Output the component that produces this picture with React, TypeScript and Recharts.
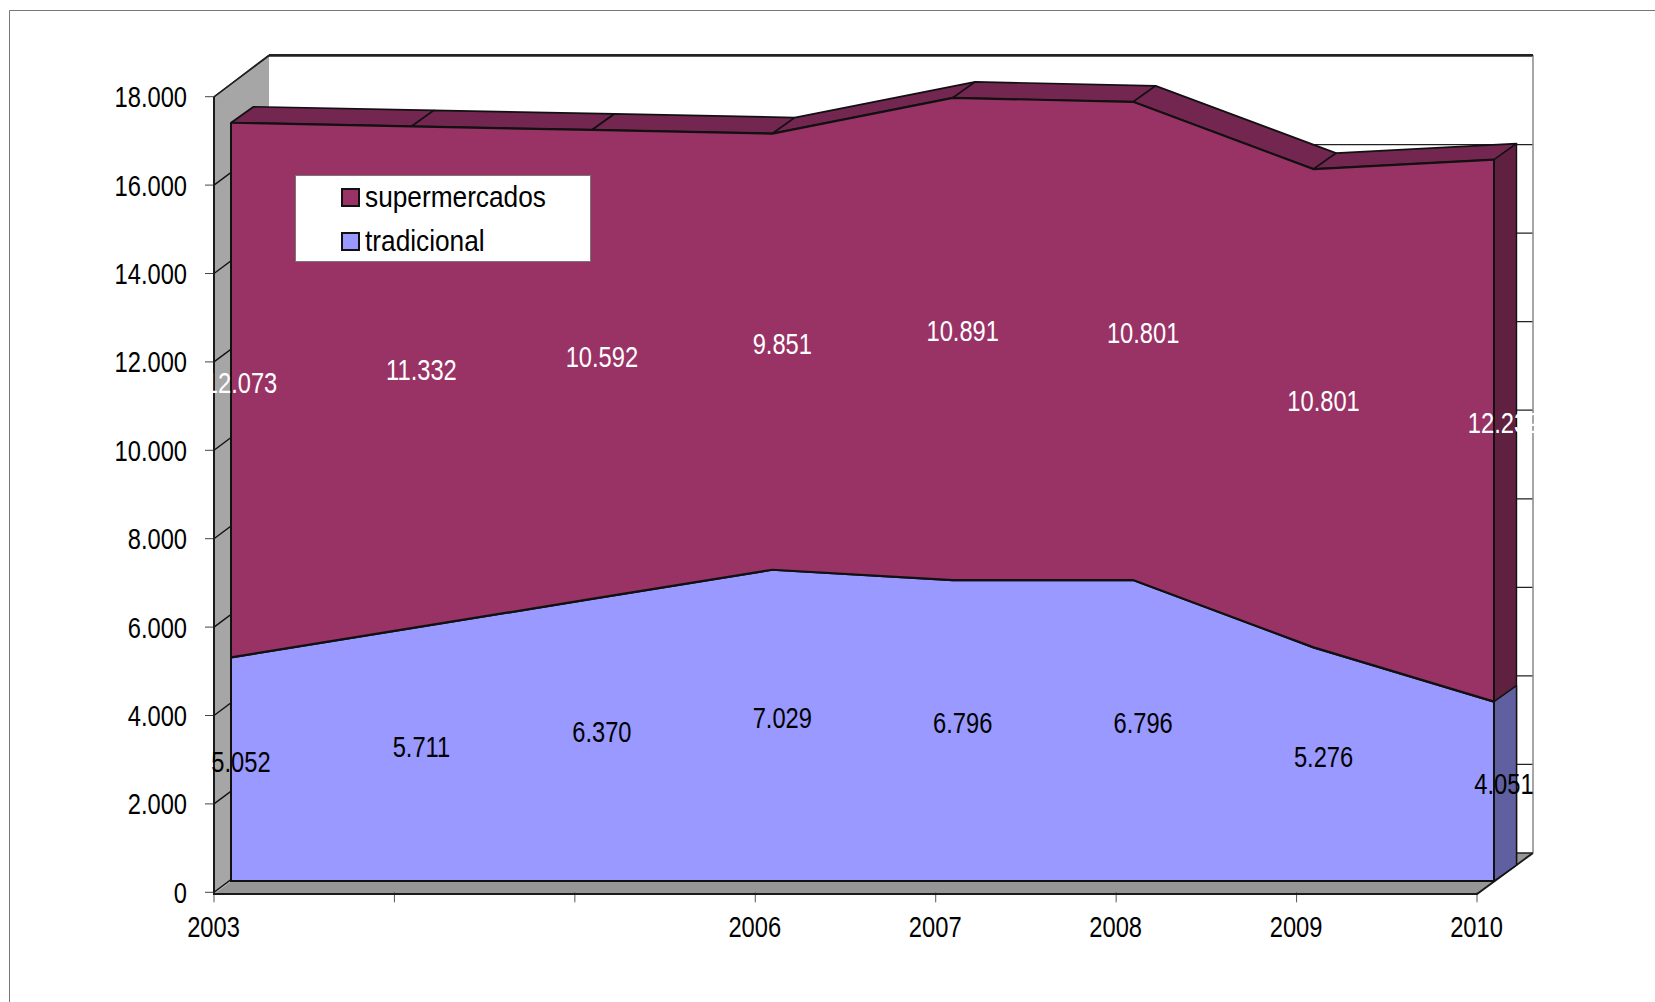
import React from "react";
import { AreaChart, Area, LineChart, Line, XAxis, YAxis, CartesianGrid, Legend } from "recharts";

const yearLabels = ["2003", "", "", "2006", "2007", "2008", "2009", "2010"];
const tradicional = [5052, 5711, 6370, 7029, 6796, 6796, 5276, 4051];
const supermercados = [12073, 11332, 10592, 9851, 10891, 10801, 10801, 12239];
const yTicks = [0, 2000, 4000, 6000, 8000, 10000, 12000, 14000, 16000, 18000];

const rows = yearLabels.map((year, i) => ({
  key: i,
  year,
  tradicional: tradicional[i],
  supermercados: supermercados[i],
  total: tradicional[i] + supermercados[i],
  midTrad: tradicional[i] / 2,
  midSuper: tradicional[i] + supermercados[i] / 2,
}));

const W = 1655;
const H = 1002;
const FONT = "'Liberation Sans', Arial, sans-serif";
const DEPTH_X = 22.5;
const DEPTH_Y = -16;
const FRONT_BASE = 881;
const domain: [number, number] = [0, 18000];
const legendOrder = ["supermercados", "tradicional"];
const legendFill: Record<string, string> = { supermercados: "#993366", tradicional: "#9999FF" };

const layer: React.CSSProperties = { position: "absolute", left: 0, top: 0 };
const fmt = (n: number) => (n >= 1000 ? `${Math.floor(n / 1000)}.${String(n % 1000).padStart(3, "0")}` : String(n));

function Squeezed({ x, y, children, fill = "#000", anchor = "middle" }: any) {
  return (
    <text
      transform={`translate(${x},${y}) scale(0.79,1)`}
      textAnchor={anchor}
      dy="0.35em"
      fontFamily={FONT}
      fontSize={30}
      fill={fill}
    >
      {children}
    </text>
  );
}

function YTick({ y, payload }: any) {
  const axisX = 214;
  return (
    <g>
      <line x1={axisX} y1={y} x2={axisX + 55} y2={y - 41} stroke="#111" strokeWidth={1.4} />
      <Squeezed x={187} y={y} anchor="end">{fmt(payload.value)}</Squeezed>
    </g>
  );
}

function XTick({ x, payload }: any) {
  return <Squeezed x={x - 0.5} y={926}>{payload.value}</Squeezed>;
}

function TopFace(props: any) {
  const { index, points, cx, cy } = props;
  const next = points && points[index + 1];
  if (!next) return <g key={index} />;
  const d = `M${cx},${cy} L${next.x},${next.y} L${next.x + DEPTH_X},${next.y + DEPTH_Y} L${cx + DEPTH_X},${cy + DEPTH_Y} Z`;
  return <path key={index} d={d} fill="#732650" stroke="#111" strokeWidth={1.7} strokeLinejoin="round" />;
}

function sideFace(cx: number, cy: number, fill: string, key: number) {
  const d = `M${cx},${cy} L${cx + DEPTH_X},${cy + DEPTH_Y} L${cx + DEPTH_X},${FRONT_BASE + DEPTH_Y} L${cx},${FRONT_BASE} Z`;
  return <path key={key} d={d} fill={fill} stroke="#111" strokeWidth={1.4} strokeLinejoin="round" />;
}

function TotalDot(props: any) {
  const { index, points, cx, cy } = props;
  if (index === points.length - 1) return sideFace(cx, cy, "#602040", index);
  return <TopFace {...props} key={index} />;
}

function TradDot(props: any) {
  const { index, points, cx, cy } = props;
  if (index === points.length - 1) return sideFace(cx, cy, "#6060A0", index);
  return <g key={index} />;
}

function FrameDot(props: any) {
  const { index, points, cx, cy } = props;
  if (index !== 0) return <g key={index} />;
  const last = points[points.length - 1];
  const d = `M${cx},${cy} L${cx},${FRONT_BASE} L${last.x},${FRONT_BASE} L${last.x},${last.y}`;
  return <path key={index} d={d} fill="none" stroke="#111" strokeWidth={2} />;
}

function LegendBox() {
  return (
    <div
      style={{
        width: 296,
        height: 87,
        boxSizing: "border-box",
        background: "#fff",
        border: "1px solid #777",
        position: "relative",
      }}
    >
      {legendOrder.map((name, i) => (
        <div key={name} style={{ position: "absolute", left: 45, top: 12 + i * 44, height: 20, whiteSpace: "nowrap" }}>
          <span
            style={{
              position: "absolute",
              left: 0,
              top: 0,
              width: 19,
              height: 19,
              boxSizing: "border-box",
              background: legendFill[name],
              border: "2px solid #111",
            }}
          />
          <span
            style={{
              position: "absolute",
              left: 24,
              top: -7,
              fontFamily: FONT,
              fontSize: 30,
              lineHeight: "32px",
              color: "#000",
              transform: "scaleX(0.875)",
              transformOrigin: "left center",
            }}
          >
            {name}
          </span>
        </div>
      ))}
    </div>
  );
}

const midLabel = (values: number[], fill: string) => (props: any) => {
  const { x, y, index } = props;
  return (
    <Squeezed key={index} x={x} y={y} fill={fill}>
      {fmt(values[index])}
    </Squeezed>
  );
};

function Walls() {
  return (
    <svg width={W} height={H} style={layer}>
      <path d="M9.5,1002 V10.5 H1655" fill="none" stroke="#777" strokeWidth={1} />
      <polygon points="269,55 1533,55 1533,853 269,853" fill="#fff" />
      <polygon points="214,97 269,55 269,853 214,894" fill="#A6A6A6" />
      <polygon points="214,894 269,853 1533,853 1477,894" fill="#969696" />
    </svg>
  );
}

function WallEdges() {
  return (
    <svg width={W} height={H} style={layer}>
      <path d="M1533,55 V853" fill="none" stroke="#888" strokeWidth={1.5} />
      <path d="M269,55 H1533" fill="none" stroke="#222" strokeWidth={2} />
      <path d="M214,97 L269,55" fill="none" stroke="#222" strokeWidth={1.5} />
      <path d="M214,97 V894 H1477 L1533,853" fill="none" stroke="#1a1a1a" strokeWidth={2} />
    </svg>
  );
}

export default function App() {
  return (
    <div style={{ position: "absolute", left: 0, top: 0, width: W, height: H, overflow: "hidden", background: "#fff" }}>
      <Walls />

      <LineChart style={layer} width={W} height={H} data={rows} margin={{ left: 269, right: W - 1533, top: 56, bottom: H - 853 }}>
        <CartesianGrid horizontal vertical={false} stroke="#222" strokeWidth={1.3} syncWithTicks />
        <XAxis dataKey="key" hide />
        <YAxis hide domain={domain} ticks={yTicks} />
        <Line dataKey="total" stroke="none" dot={false} isAnimationActive={false} />
      </LineChart>

      <LineChart style={layer} width={W} height={H} data={rows} margin={{ left: 154, right: W - 1477, top: 96.7, bottom: H - 892.3 - 40 }}>
        <XAxis
          dataKey="year"
          height={40}
          interval={0}
          axisLine={false}
          tickLine={{ stroke: "#555", strokeWidth: 1 }}
          tickSize={10}
          tick={<XTick />}
        />
        <YAxis
          width={60}
          domain={domain}
          ticks={yTicks}
          interval={0}
          axisLine={false}
          tickLine={{ stroke: "#444", strokeWidth: 1 }}
          tickSize={9}
          tick={<YTick />}
        />
        <Line dataKey="total" stroke="none" dot={false} isAnimationActive={false} />
      </LineChart>

      <WallEdges />

      <LineChart style={layer} width={W} height={H} data={rows} margin={{ left: 231, right: W - 1494, top: 84, bottom: H - FRONT_BASE }}>
        <XAxis dataKey="key" hide />
        <YAxis hide domain={domain} />
        <Line dataKey="total" stroke="none" dot={TotalDot} isAnimationActive={false} />
        <Line dataKey="tradicional" stroke="none" dot={TradDot} isAnimationActive={false} />
      </LineChart>

      <AreaChart style={layer} width={W} height={H} data={rows} margin={{ left: 231, right: W - 1494, top: 84, bottom: H - FRONT_BASE }}>
        <XAxis dataKey="key" hide />
        <YAxis hide domain={domain} />
        <Legend
          layout="vertical"
          align="center"
          verticalAlign="middle"
          content={LegendBox}
          wrapperStyle={{ position: "absolute", left: 295, top: 175, width: 296, height: 87, margin: 0 }}
        />
        <Area
          dataKey="tradicional"
          name="tradicional"
          stackId="a"
          type="linear"
          fill="#9999FF"
          fillOpacity={1}
          stroke="#111"
          strokeWidth={2.2}
          dot={false}
          isAnimationActive={false}
        />
        <Area
          dataKey="supermercados"
          name="supermercados"
          stackId="a"
          type="linear"
          fill="#993366"
          fillOpacity={1}
          stroke="#111"
          strokeWidth={2.2}
          dot={FrameDot}
          isAnimationActive={false}
        />
      </AreaChart>

      <LineChart style={layer} width={W} height={H} data={rows} margin={{ left: 231, right: W - 1494, top: 84, bottom: H - FRONT_BASE }}>
        <XAxis dataKey="key" hide />
        <YAxis hide domain={domain} />
        <Line dataKey="tradicional" stroke="#111" strokeWidth={2.2} dot={false} isAnimationActive={false} />
      </LineChart>

      <LineChart style={layer} width={W} height={H} data={rows} margin={{ left: 241, right: W - 1504, top: 76, bottom: H - 873 }}>
        <XAxis dataKey="key" hide />
        <YAxis hide domain={domain} />
        <Line dataKey="midTrad" stroke="none" dot={false} label={midLabel(tradicional, "#000")} isAnimationActive={false} />
        <Line dataKey="midSuper" stroke="none" dot={false} label={midLabel(supermercados, "#fff")} isAnimationActive={false} />
      </LineChart>
    </div>
  );
}
